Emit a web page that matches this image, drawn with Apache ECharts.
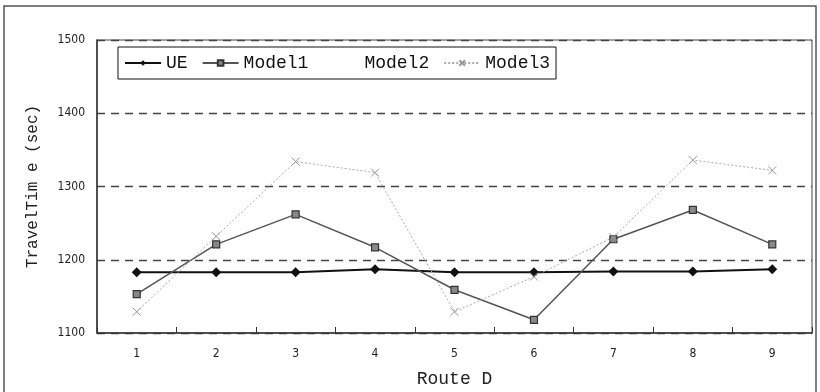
<!DOCTYPE html>
<html><head><meta charset="utf-8">
<script src="https://cdn.jsdelivr.net/npm/echarts@6/dist/echarts.min.js"></script>
<style>html,body{margin:0;padding:0;background:#fff}#c{width:820px;height:392px}</style>
</head><body><div id="c"></div>
<script>
const categories = ['1','2','3','4','5','6','7','8','9'];
const seriesNames = ['UE','Model1','Model2','Model3'];
const ue = [1183,1183,1183,1187,1183,1183,1184,1184,1187];
const model1 = [1153,1221,1262,1217,1159,1118,1228,1268,1221];
const model2 = [];
const model3 = [1129,1232,1334,1319,1129,1177,1231,1336,1322];
const yTicks = [1100,1200,1300,1400,1500];

const chart = echarts.init(document.getElementById('c'), null, {renderer:'canvas'});
chart.setOption({
  animation:false,
  backgroundColor:'#fff',
  graphic:[{type:'rect',shape:{x:4,y:6,width:812,height:392},style:{fill:'none',stroke:'#555',lineWidth:1.5},silent:true}],
  grid:{left:97,right:8,top:40,bottom:59,show:true,borderColor:'#444',borderWidth:1,containLabel:false,outerBoundsMode:'none'},
  legend:{
    left:118,top:47,
    data:seriesNames,
    orient:'horizontal',
    borderColor:'#111',borderWidth:1,
    padding:[7,6,7,6],
    itemGap:14,itemWidth:36,itemHeight:7,
    textStyle:{fontFamily:'Liberation Mono',fontSize:18,color:'#111'}
  },
  xAxis:{
    type:'category',data:categories,boundaryGap:true,
    name:'Route D',nameLocation:'middle',nameGap:37,
    nameTextStyle:{fontFamily:'Liberation Mono',fontSize:18,color:'#222'},
    axisLine:{lineStyle:{color:'#333',width:1.5}},
    axisTick:{show:true,inside:true,length:6,lineStyle:{color:'#333'}},
    axisLabel:{fontFamily:'DejaVu Sans Condensed',fontSize:12,color:'#222',margin:15},
    splitLine:{show:false}
  },
  yAxis:{
    type:'value',min:yTicks[0],max:yTicks[yTicks.length-1],interval:100,
    name:'TravelTim e (sec)',nameLocation:'middle',nameGap:56,
    nameTextStyle:{fontFamily:'Liberation Mono',fontSize:16,color:'#222'},
    axisLine:{show:true,lineStyle:{color:'#333',width:1.5}},
    axisTick:{show:false},
    axisLabel:{fontFamily:'DejaVu Sans Condensed',fontSize:12,color:'#222',margin:12,formatter:v=>String(v)},
    splitLine:{show:true,lineStyle:{color:'#444',type:[8,6],width:1.3}}
  },
  series:[
    {name:'UE',type:'line',data:ue,symbol:'diamond',symbolSize:10,
     lineStyle:{color:'#111',width:2},itemStyle:{color:'#111'}},
    {name:'Model1',type:'line',data:model1,symbol:'rect',symbolSize:7,
     lineStyle:{color:'#555',width:1.5},itemStyle:{color:'#888',borderColor:'#333',borderWidth:1.2}},
    {name:'Model2',type:'line',data:model2,symbol:'none',
     lineStyle:{opacity:0},itemStyle:{opacity:0}},
    {name:'Model3',type:'line',data:model3,
     symbol:'path://M0,0 L10,10 M10,0 L0,10',symbolSize:8,
     lineStyle:{color:'#aaa',width:1,type:[2,2]},itemStyle:{color:'none',borderColor:'#999',borderWidth:1}}
  ]
});
</script></body></html>
